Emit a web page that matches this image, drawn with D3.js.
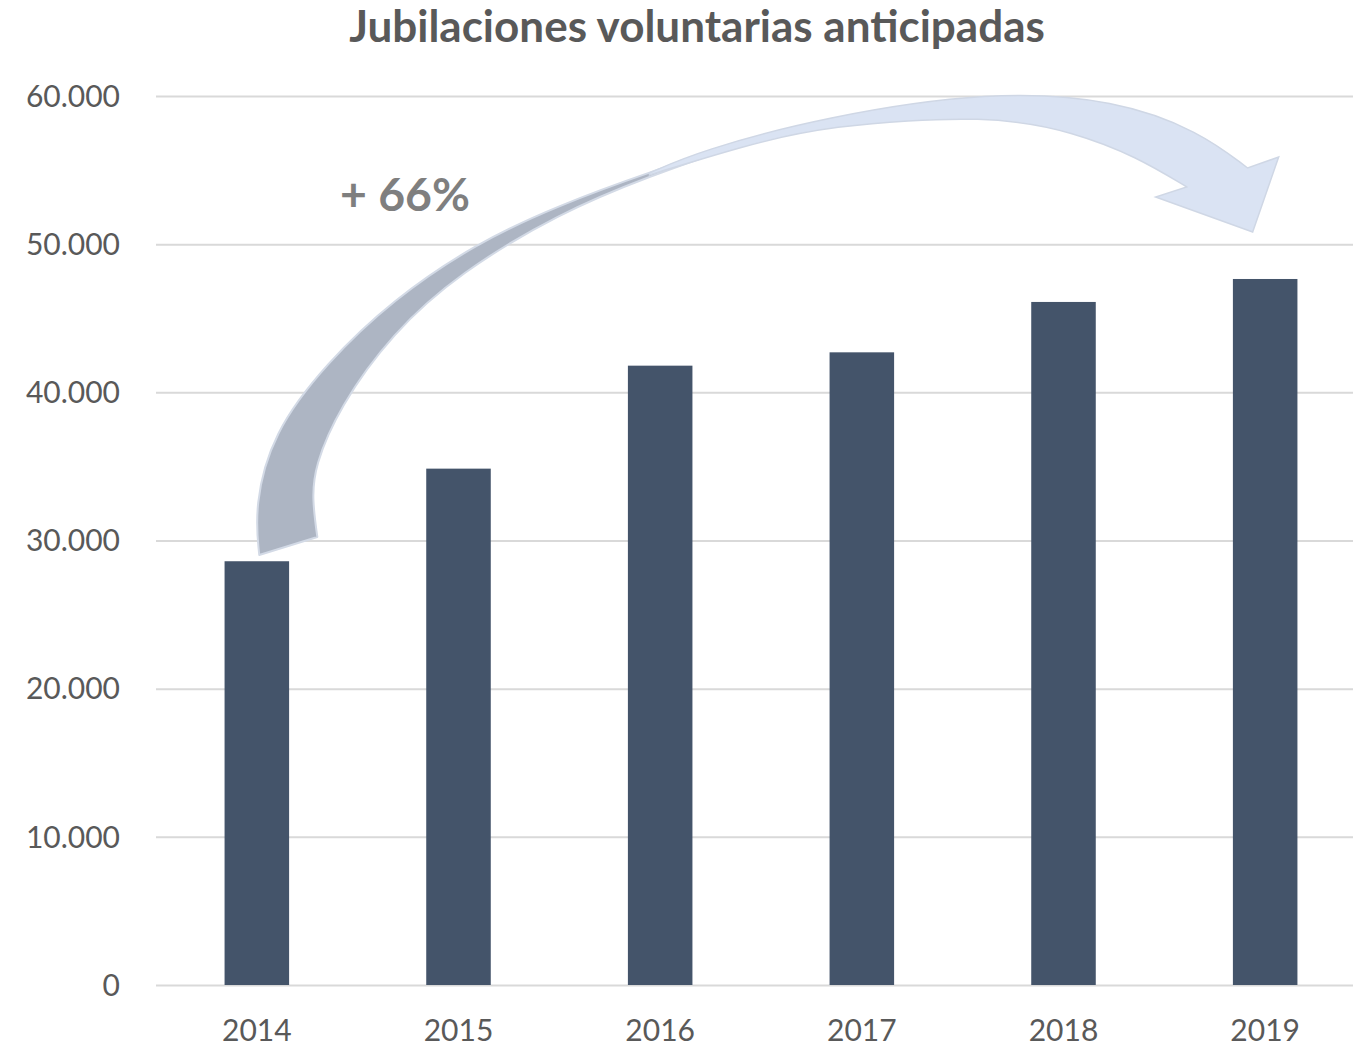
<!DOCTYPE html>
<html>
<head>
<meta charset="utf-8">
<script src="https://cdn.jsdelivr.net/npm/d3@7"></script>
<style>
  html, body { margin: 0; padding: 0; background: #ffffff; }
  svg { display: block; }
</style>
</head>
<body>
<svg id="chart" width="1353" height="1049"></svg>
<script>
// ---- data ----
const title = "Jubilaciones voluntarias anticipadas";
const years = ["2014", "2015", "2016", "2017", "2018", "2019"];
const values = [28600, 34850, 41800, 42700, 46100, 47650];
const yTicks = [0, 10000, 20000, 30000, 40000, 50000, 60000];
const growthLabel = "+ 66%";

// arrow annotation outline in data space: [category index offset, value in thousands]
const arrowBackOuter = [[0.012,29.02],[-0.012,32.26],[0.077,37.25],[0.345,41.98],[0.672,46.23],[1.089,50.08],[1.500,52.64],[1.947,54.87],[2.393,56.83]];
const arrowBackInner = [[2.393,56.69],[1.947,54.60],[1.500,52.10],[1.004,48.05],[0.672,44.00],[0.409,39.01],[0.285,34.96],[0.275,32.73],[0.300,30.24]];
const arrowFrontUpper = [[1.947,54.80],[2.195,56.30],[2.815,58.60],[3.643,60.35],[4.263,59.75],[4.675,57.60],[4.913,55.14]];
const arrowHead = [[5.067,55.88],[4.938,50.82],[4.457,53.18],[4.611,53.86]];
const arrowFrontLower = [[4.611,53.86],[4.363,55.90],[4.055,57.55],[3.643,58.75],[2.815,58.00],[2.393,56.55],[1.947,54.67]];

// ---- layout ----
const W = 1353, H = 1049;
const svg = d3.select("#chart");

const x = d3.scaleBand().domain(years).range([156, 1366]).paddingInner(0.68).paddingOuter(0.34);
const y = d3.scaleLinear().domain([0, 60000]).range([985, 96]);
const xi = d3.scaleLinear().domain([0, 1]).range([x(years[0]) + x.bandwidth()/2, x(years[1]) + x.bandwidth()/2]);

const loc = d3.formatLocale({decimal: ",", thousands: ".", grouping: [3], currency: ["", ""]});
const fmt = loc.format(",.0f");

// gridlines
const yAxis = d3.axisLeft(y).tickValues(yTicks).tickSize(-(W - 156)).tickFormat("");
const gGrid = svg.append("g").attr("transform", "translate(156,0)").call(yAxis);
gGrid.select(".domain").remove();
gGrid.selectAll(".tick line").attr("stroke", "#d9d9d9").attr("stroke-width", 2);

// y labels
svg.append("g").selectAll("text").data(yTicks).join("text")
  .attr("x", 120).attr("y", d => y(d))
  .attr("dy", "0.36em")
  .attr("text-anchor", "end")
  .attr("font-family", "Lato, 'Open Sans', sans-serif")
  .attr("font-size", 30)
  .attr("fill", "#595959")
  .text(d => fmt(d));

// bars
svg.append("g").selectAll("rect").data(values).join("rect")
  .attr("x", (d, i) => x(years[i]))
  .attr("y", d => y(d))
  .attr("width", x.bandwidth())
  .attr("height", d => y(0) - y(d))
  .attr("fill", "#44546a");

// x labels
svg.append("g").selectAll("text").data(years).join("text")
  .attr("x", d => x(d) + x.bandwidth()/2)
  .attr("y", 1041)
  .attr("text-anchor", "middle")
  .attr("font-family", "Lato, 'Open Sans', sans-serif")
  .attr("font-size", 30)
  .attr("fill", "#595959")
  .text(d => d);

// arrow annotation
const P = p => [xi(p[0]), y(p[1] * 1000)];
const curve = d3.line().curve(d3.curveBasis);
const asL = s => "L" + s.slice(1);

const backPath = curve(arrowBackOuter.map(P)) + asL(curve(arrowBackInner.map(P))) + "Z";
svg.append("path").attr("d", backPath)
  .attr("fill", "#adb5c3").attr("stroke", "#d3dae6").attr("stroke-width", 2).attr("stroke-linejoin", "round");

const frontPath = curve(arrowFrontUpper.map(P)) +
  arrowHead.map(p => "L" + P(p).join(",")).join("") +
  asL(curve(arrowFrontLower.map(P))) + "Z";
svg.append("path").attr("d", frontPath)
  .attr("fill", "#dae3f3").attr("stroke", "#cfd7e5").attr("stroke-width", 1.5).attr("stroke-linejoin", "miter");

// growth label
const gl = svg.append("text")
  .attr("x", 340).attr("y", 211)
  .attr("font-family", "Lato, 'Open Sans', sans-serif")
  .attr("font-weight", "bold")
  .attr("font-size", 47)
  .attr("fill", "#7f7f7f")
  .text(growthLabel);
{
  const w = gl.node().getComputedTextLength();
  gl.attr("font-size", 47 * 130 / w);
}

// title
const t = svg.append("text")
  .attr("x", 697).attr("y", 42)
  .attr("text-anchor", "middle")
  .attr("font-family", "Lato, 'Open Sans', sans-serif")
  .attr("font-weight", "bold")
  .attr("font-size", 40)
  .attr("fill", "#595959")
  .text(title);
{
  const w = t.node().getComputedTextLength();
  t.attr("font-size", Math.min(44, 40 * 713 / w));
}
</script>
</body>
</html>
